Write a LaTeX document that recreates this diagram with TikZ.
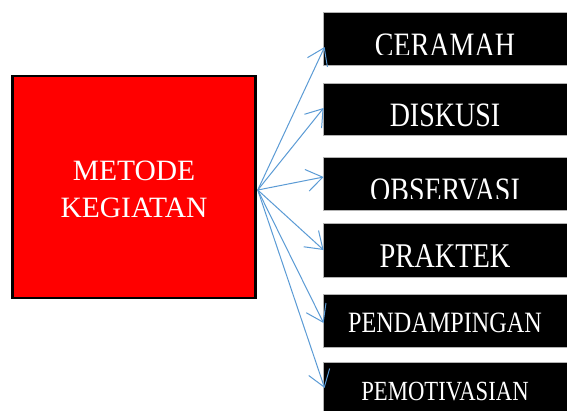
\documentclass[tikz,border=0pt]{standalone}
\usepackage{fontspec}
\setmainfont{Liberation Serif}
\usetikzlibrary{arrows.meta}
\definecolor{arrblue}{RGB}{91,155,213}
\definecolor{boxred}{RGB}{255,0,0}
\tikzset{
  mainbox/.style={draw=black, line width=2.5pt, fill=boxred, inner sep=0pt,
    minimum width=243pt, minimum height=222pt, text=white, align=center,
    font=\fontsize{29.3}{37}\selectfont},
  blackbox/.style={draw=gray!60, line width=0.8pt, fill=black, inner sep=0pt,
    minimum width=244pt},
  boxtext/.style={text=white, inner sep=0pt, anchor=base},
  arr/.style={draw=arrblue, line width=1pt, -{Straight Barb[length=16pt,width=22pt]}}
}
\newcommand{\stx}[2]{\scalebox{1}[1.22]{\fontsize{#1}{#1}\selectfont #2}}
\begin{document}
\begin{tikzpicture}[x=1pt,y=-1pt]
\useasboundingbox (0,0) rectangle (567,410);
\fill[white] (0,0) rectangle (567,410);
% main red box
\node[mainbox] (m) at (134,187) {};
\node[text=white, inner sep=0pt, anchor=base, font=\fontsize{29.5}{37}\selectfont] (mt1) at (134,180) {METODE};
\node[text=white, inner sep=0pt, anchor=base, font=\fontsize{29.5}{37}\selectfont] (mt2) at (134,217) {KEGIATAN};
% black boxes
\node[blackbox, minimum height=53pt] (b1) at (445,38.5) {};
\node[blackbox, minimum height=52pt] (b2) at (445,109) {};
\node[blackbox, minimum height=53pt] (b3) at (445,183.5) {};
\node[blackbox, minimum height=54pt] (b4) at (445,250) {};
\node[blackbox, minimum height=53pt] (b5) at (445,320.5) {};
\node[blackbox, minimum height=50pt] (b6) at (445,387) {};
% texts
\begin{scope}
\clip (323,12) rectangle (567,54.5);
\node[boxtext] (t1) at (445,56) {\stx{28}{CERAMAH}};
\end{scope}
\node[boxtext] (t2) at (445,126.5) {\stx{28}{DISKUSI}};
\begin{scope}
\clip (323,157) rectangle (567,198.5);
\node[boxtext] (t3) at (445,201) {\stx{28}{OBSERVASI}};
\end{scope}
\node[boxtext] (t4) at (445,267) {\stx{28.4}{PRAKTEK}};
\node[boxtext] (t5) at (445,332.5) {\stx{24.2}{PENDAMPINGAN}};
\node[boxtext] (t6) at (445,400) {\stx{22.7}{PEMOTIVASIAN}};
% arrows
\draw[arr] ([shift={(1,3)}]m.east) -- ([shift={(2,8.5)}]b1.west);
\draw[arr] ([shift={(1,3)}]m.east) -- ([shift={(1,-1)}]b2.west);
\draw[arr] ([shift={(1,3)}]m.east) -- ([shift={(1,-6.5)}]b3.west);
\draw[arr] ([shift={(1,3)}]m.east) -- ([shift={(1,0)}]b4.west);
\draw[arr] ([shift={(1,3)}]m.east) -- ([shift={(1,2.5)}]b5.west);
\draw[arr] ([shift={(1,3)}]m.east) -- ([shift={(2,1)}]b6.west);
\end{tikzpicture}
\end{document}
